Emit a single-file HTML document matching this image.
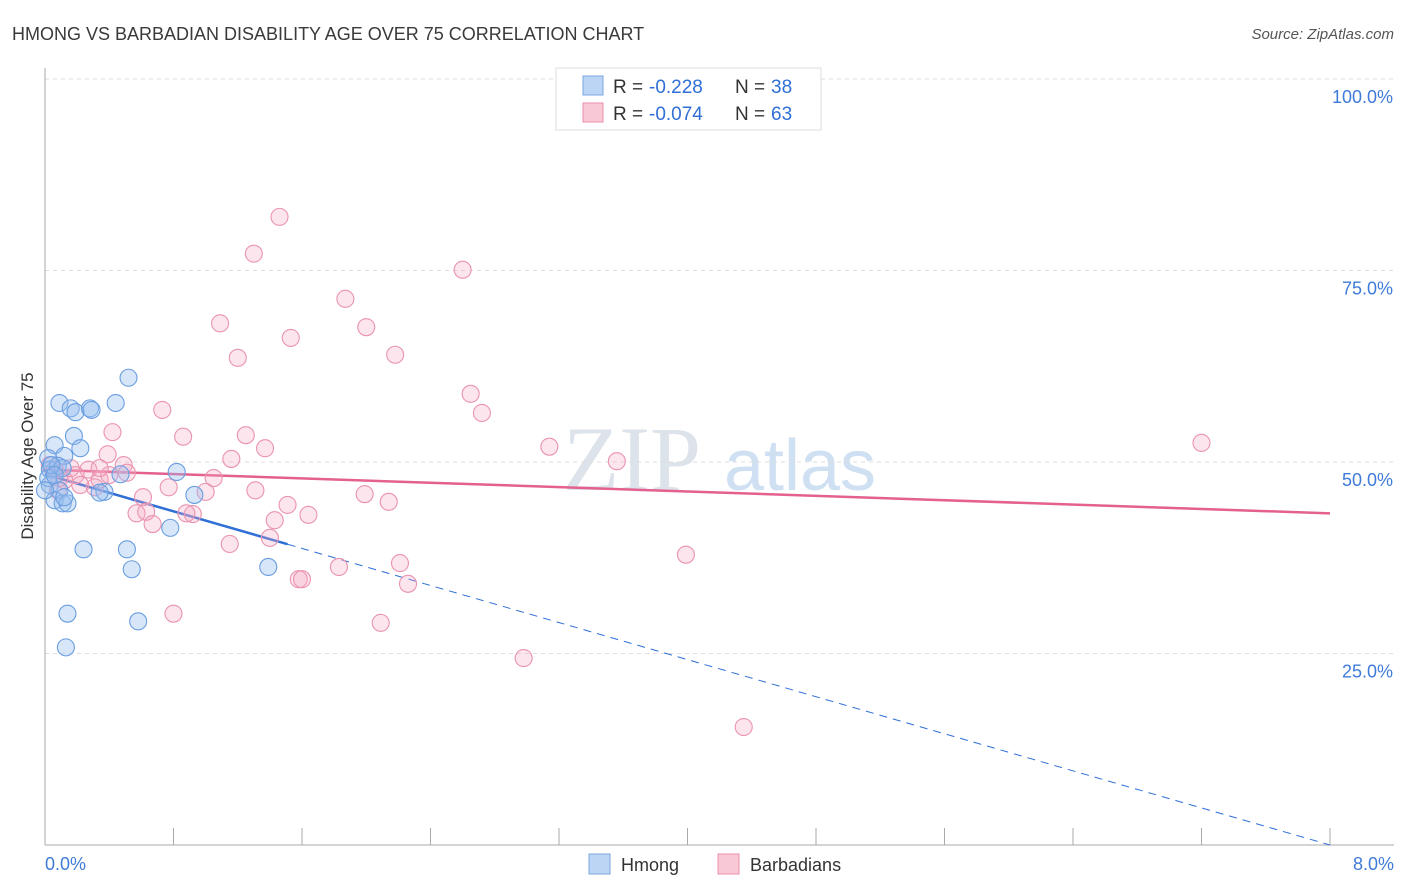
<!DOCTYPE html>
<html><head><meta charset="utf-8"><style>
body{margin:0;background:#fff;font-family:"Liberation Sans",sans-serif;}
svg{display:block}
</style></head><body>
<svg id="chart" width="1406" height="892">
<text x="12" y="40" font-size="18" fill="#3a3a3a">HMONG VS BARBADIAN DISABILITY AGE OVER 75 CORRELATION CHART</text>
<text x="1394" y="39" font-size="15" fill="#555" text-anchor="end" font-style="italic">Source: ZipAtlas.com</text>
<text x="33" y="456" font-size="17" fill="#333" text-anchor="middle" transform="rotate(-90 33 456)">Disability Age Over 75</text>
<text x="632" y="490" font-size="92" fill="#dde3ea" font-family="Liberation Serif,serif" text-anchor="middle">ZIP</text>
<text x="800" y="490" font-size="72" fill="#cfe0f3" text-anchor="middle">atlas</text>
<g id="grid"></g><g id="axes"></g><g id="lines"></g><g id="pts"></g>
<g>
<rect x="556" y="68" width="265" height="62" fill="#fff" stroke="#ddd"/>
<rect x="583" y="76" width="20" height="19" fill="#bcd5f5" stroke="#7aa6e0"/>
<text x="613" y="93" font-size="19" fill="#333">R =</text>
<text x="649" y="93" font-size="19" fill="#2f6fd6">-0.228</text>
<text x="735" y="93" font-size="19" fill="#333">N =</text>
<text x="771" y="93" font-size="19" fill="#2f6fd6">38</text>
<rect x="583" y="103" width="20" height="19" fill="#f9c8d6" stroke="#e98fab"/>
<text x="613" y="120" font-size="19" fill="#333">R =</text>
<text x="649" y="120" font-size="19" fill="#2f6fd6">-0.074</text>
<text x="735" y="120" font-size="19" fill="#333">N =</text>
<text x="771" y="120" font-size="19" fill="#2f6fd6">63</text>
</g>
<g>
<rect x="589" y="854" width="21" height="20" fill="#bcd5f5" stroke="#7aa6e0"/>
<text x="621" y="871" font-size="18" fill="#333">Hmong</text>
<rect x="718" y="854" width="21" height="20" fill="#f9c8d6" stroke="#e98fab"/>
<text x="750" y="871" font-size="18" fill="#333">Barbadians</text>
</g>
</svg>
<script>
const xTickLabels=["0.0%","8.0%"];
const yTicks=[25,50,75,100];
const yTickLabels=["25.0%","50.0%","75.0%","100.0%"];
const hmongX=[0.52,0.09,0.44,0.16,0.19,0.28,0.29,0.06,0.18,0.22,0.12,0.02,0.03,0.08,0.11,0.47,0.82,0.03,0.09,0.37,0.93,0.06,0.11,0.14,0.12,0.78,0.24,0.51,0.54,1.39,0.14,0.58,0.13,0.02,0.04,0.0,0.34,0.06];
const hmongY=[61.0,57.7,57.7,57.0,56.5,57.0,56.8,52.2,53.4,51.8,50.8,50.5,49.0,49.5,49.2,48.4,48.7,47.0,46.3,46.1,45.7,45.0,44.6,44.6,45.4,41.4,38.6,38.6,36.0,36.3,30.2,29.2,25.8,47.9,49.6,46.3,46.0,48.3];
const barbX=[1.46,1.30,2.60,1.87,1.09,2.00,1.53,1.20,2.18,2.65,2.72,0.73,0.42,0.86,1.25,1.37,3.14,7.20,0.39,1.16,3.56,0.49,0.27,0.19,0.09,1.05,0.51,0.06,0.34,0.31,0.77,1.00,1.31,0.61,1.99,2.14,1.51,0.92,0.57,0.63,0.88,1.64,1.43,0.67,1.15,1.40,3.99,2.21,1.83,1.58,1.60,2.26,0.80,2.09,2.98,4.35,0.03,0.12,0.22,0.16,0.40,0.08,0.34];
const barbY=[82.0,77.2,75.1,71.3,68.1,67.6,66.2,63.6,64.0,58.9,56.4,56.8,53.9,53.3,53.5,51.8,52.0,52.5,51.0,50.4,50.1,49.6,49.0,48.3,47.9,47.9,48.6,49.0,47.7,46.7,46.7,46.1,46.3,45.4,45.8,44.8,44.4,43.2,43.3,43.5,43.3,43.1,42.4,41.9,39.3,40.1,37.9,36.8,36.3,34.7,34.7,34.1,30.2,29.0,24.4,15.4,49.6,47.6,47.0,49.2,48.3,46.3,49.2];
const hmongTrend=[48.4,0.0];
const barbTrend=[49.0,43.3];
const hmongSolidEnd=1.51;
const X=v=>45+v*(1285/8), Y=v=>845-v*7.66;
const NS="http://www.w3.org/2000/svg";
function mk(t,a,p){const e=document.createElementNS(NS,t);for(const k in a)e.setAttribute(k,a[k]);p.appendChild(e);return e;}
const grid=document.getElementById('grid'),axes=document.getElementById('axes'),lines=document.getElementById('lines'),pts=document.getElementById('pts');
yTicks.forEach((t,i)=>{
 const l=mk('line',{x1:45,x2:1394,y1:Y(t),y2:Y(t),stroke:'#ddd','stroke-dasharray':'4,4'},grid);
 
 
 const tx=mk('text',{x:1393,y:Y(t)+24,'font-size':18,fill:'#3f7bd8','text-anchor':'end'},axes);
 tx.textContent=yTickLabels[i];
 
 
});
const ya=mk('line',{x1:45,x2:45,y1:68,y2:845,stroke:'#aaa'},axes);


const xa=mk('line',{x1:45,x2:1394,y1:845,y2:845,stroke:'#aaa'},axes);


for(let i=0;i<=10;i++){
 const tk=mk('line',{x1:X(i*0.8),x2:X(i*0.8),y1:828,y2:845,stroke:'#aaa'},axes);
 
 
}
[[0,'start',45],[8,'end',1394]].forEach((d,i)=>{
 const tx=mk('text',{x:d[2],y:870,'font-size':18,fill:'#3f7bd8','text-anchor':d[1]},axes);
 tx.textContent=xTickLabels[i];
 
 
});
function draw(xs,ys,fill,stroke,name){
 xs.forEach((x,i)=>{
  const c=mk('circle',{cx:X(x),cy:Y(ys[i]),r:8.5,fill:fill,stroke:stroke,'stroke-width':1.1},pts);
  
  
 });
}
draw(barbX,barbY,'rgba(246,170,195,0.3)','#ea93b0','barbadians-point');
draw(hmongX,hmongY,'rgba(150,190,240,0.38)','#6a9ee0','hmong-point');
const ht=x=>hmongTrend[0]+(hmongTrend[1]-hmongTrend[0])*x/8;
const bt=x=>barbTrend[0]+(barbTrend[1]-barbTrend[0])*x/8;
const pl=mk('line',{x1:X(0),y1:Y(bt(0)),x2:X(8),y2:Y(bt(8)),stroke:'#e4608e','stroke-width':2.5},lines);


const hs=mk('line',{x1:X(0),y1:Y(ht(0)),x2:X(hmongSolidEnd),y2:Y(ht(hmongSolidEnd)),stroke:'#2f6fd6','stroke-width':2.5},lines);


const hd=mk('line',{x1:X(hmongSolidEnd),y1:Y(ht(hmongSolidEnd)),x2:X(8),y2:Y(ht(8)),stroke:'#2f6fd6','stroke-width':1,'stroke-dasharray':'8,6'},lines);


</script>
</body></html>
